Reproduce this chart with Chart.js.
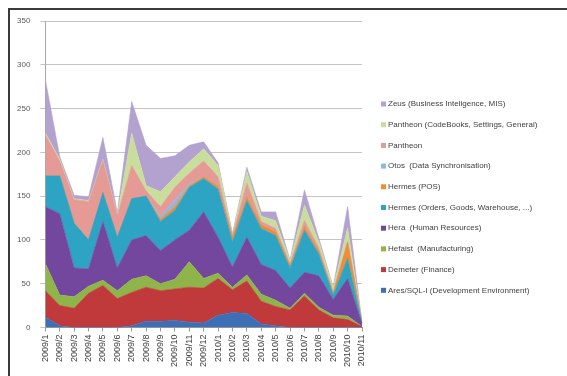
<!DOCTYPE html>
<html>
<head>
<meta charset="utf-8">
<script src="https://cdn.jsdelivr.net/npm/chart.js@4.4.1/dist/chart.umd.min.js"></script>
<style>
  html, body { margin: 0; padding: 0; background: #ffffff; }
  #wrap { position: relative; width: 567px; height: 376px; overflow: hidden; background: #fff; }
  #frame { position: absolute; left: 8px; top: 8px; width: 600px; height: 400px; border: 2px solid #3a3a3a; box-sizing: border-box; pointer-events: none; }
  #c { position: absolute; left: 0; top: 0; }
</style>
</head>
<body>
<div id="wrap">
  <canvas id="c" width="567" height="376"></canvas>
  <div id="frame"></div>
</div>
<script>
const categories = ["2009/1","2009/2","2009/3","2009/4","2009/5","2009/6","2009/7","2009/8","2009/9","2009/10","2009/11","2009/12",
  "2010/1","2010/2","2010/3","2010/4","2010/5","2010/6","2010/7","2010/8","2010/9","2010/10","2010/11"];

const seriesNames = [
  "Ares/SQL-I (Development Environment)",
  "Demeter (Finance)",
  "Hefaist  (Manufacturing)",
  "Hera  (Human Resources)",
  "Hermes (Orders, Goods, Warehouse, ...)",
  "Hermes (POS)",
  "Otos  (Data Synchronisation)",
  "Pantheon",
  "Pantheon (CodeBooks, Settings, General)",
  "Zeus (Business Inteligence, MIS)"
];

const ares      = [12, 2, 0, 0, 0, 0, 2, 7, 7, 8, 6, 5,14,17,16, 4, 2, 0, 0, 0, 0, 0, 0];
const demeter   = [30,23,22,39,48,33,38,39,35,36,40,40,42,26,37,26,22,20,36,20,11, 9, 1];
const hefaist   = [31,12,13, 8, 6, 9,15,13, 8,11,29,11, 6, 3, 7, 8, 7, 2, 3, 3, 3, 4, 0];
const hera      = [65,93,33,20,67,26,45,46,38,45,36,76,41,23,43,34,34,23,24,36,18,43, 3];
const hermesOrd = [35,43,51,33,33,35,47,45,33,34,49,38,55,29,42,41,40,23,48,25, 5,23, 1];
const hermesPos = [ 0, 0, 0, 0, 0, 0, 0, 0, 3, 4, 2, 2, 3, 5, 4, 4, 4, 3, 4, 3, 2,18, 0];
const otos      = [ 0, 0, 0, 0, 0, 0, 0, 0, 3, 7, 2, 0, 0, 0, 0, 0, 0, 0, 0, 0, 0, 0, 0];
const pantheon  = [47,17,27,44,37,25,38, 6,11,15,12,18,11, 2,16, 4, 4, 2, 7, 4, 2, 1, 0];
const codebooks = [ 2, 2, 1, 1, 1, 1,37, 6,17,12,13,14,13, 1,13, 6, 9, 3,18, 7, 4,16, 0];
const zeus      = [61, 3, 4, 4,25, 2,36,46,38,24,19, 8, 3, 1, 5, 5,10, 1,17, 4, 1,24, 0];

const yTicks = [0, 50, 100, 150, 200, 250, 300, 350];

const seriesValues = [ares, demeter, hefaist, hera, hermesOrd, hermesPos, otos, pantheon, codebooks, zeus];
const colors = ["#3d6fb6","#c0393b","#8fb44a","#74479f","#2ea4c4","#f28b34","#93b7dc","#e59a95","#c9de9c","#b3a1cf"];

const datasets = seriesValues.map((vals, i) => ({
  label: seriesNames[i],
  data: vals,
  backgroundColor: colors[i],
  borderColor: colors[i],
  borderWidth: 0.6,
  pointRadius: 0,
  tension: 0,
  fill: i === 0 ? 'origin' : '-1'
}));

const FONT = "'Liberation Sans', Arial, sans-serif";

// Legend drawn from the chart's own datasets, listed top-down in reverse order
const sideLegend = {
  id: 'sideLegend',
  afterDraw(chart) {
    const ctx = chart.ctx;
    const ds = chart.data.datasets;
    const x0 = 381, y0 = 104, step = 20.7;
    ctx.save();
    ctx.font = "8px " + FONT;
    ctx.textBaseline = 'middle';
    ctx.textAlign = 'left';
    for (let k = 0; k < ds.length; k++) {
      const d = ds[ds.length - 1 - k];
      const y = y0 + k * step;
      ctx.fillStyle = d.backgroundColor;
      ctx.fillRect(x0, y - 2.5, 5, 5);
      ctx.fillStyle = '#404040';
      ctx.fillText(d.label, x0 + 7, y);
    }
    ctx.restore();
  }
};

new Chart(document.getElementById('c'), {
  type: 'line',
  data: { labels: categories, datasets },
  plugins: [sideLegend],
  options: {
    responsive: false,
    animation: false,
    devicePixelRatio: 1,
    layout: { padding: { left: 7, top: 21, right: 205, bottom: 6 } },
    plugins: {
      tooltip: { enabled: false },
      legend: { display: false }
    },
    scales: {
      x: {
        offset: false,
        grid: { drawOnChartArea: false, drawTicks: true, tickLength: 4, color: '#9a9a9a' },
        border: { display: true, color: '#9a9a9a' },
        ticks: {
          autoSkip: false, minRotation: 90, maxRotation: 90, padding: 3,
          color: '#404040', font: { family: FONT, size: 9 }
        }
      },
      y: {
        stacked: true,
        min: 0, max: 350,
        afterBuildTicks: (axis) => { axis.ticks = yTicks.map(v => ({ value: v })); },
        grid: { color: '#c4c4c4', lineWidth: 1, tickLength: 5 },
        border: { display: true, color: '#a8a8a8' },
        ticks: { padding: 10, color: '#595959', font: { family: FONT, size: 8 } }
      }
    }
  }
});
</script>
</body>
</html>
